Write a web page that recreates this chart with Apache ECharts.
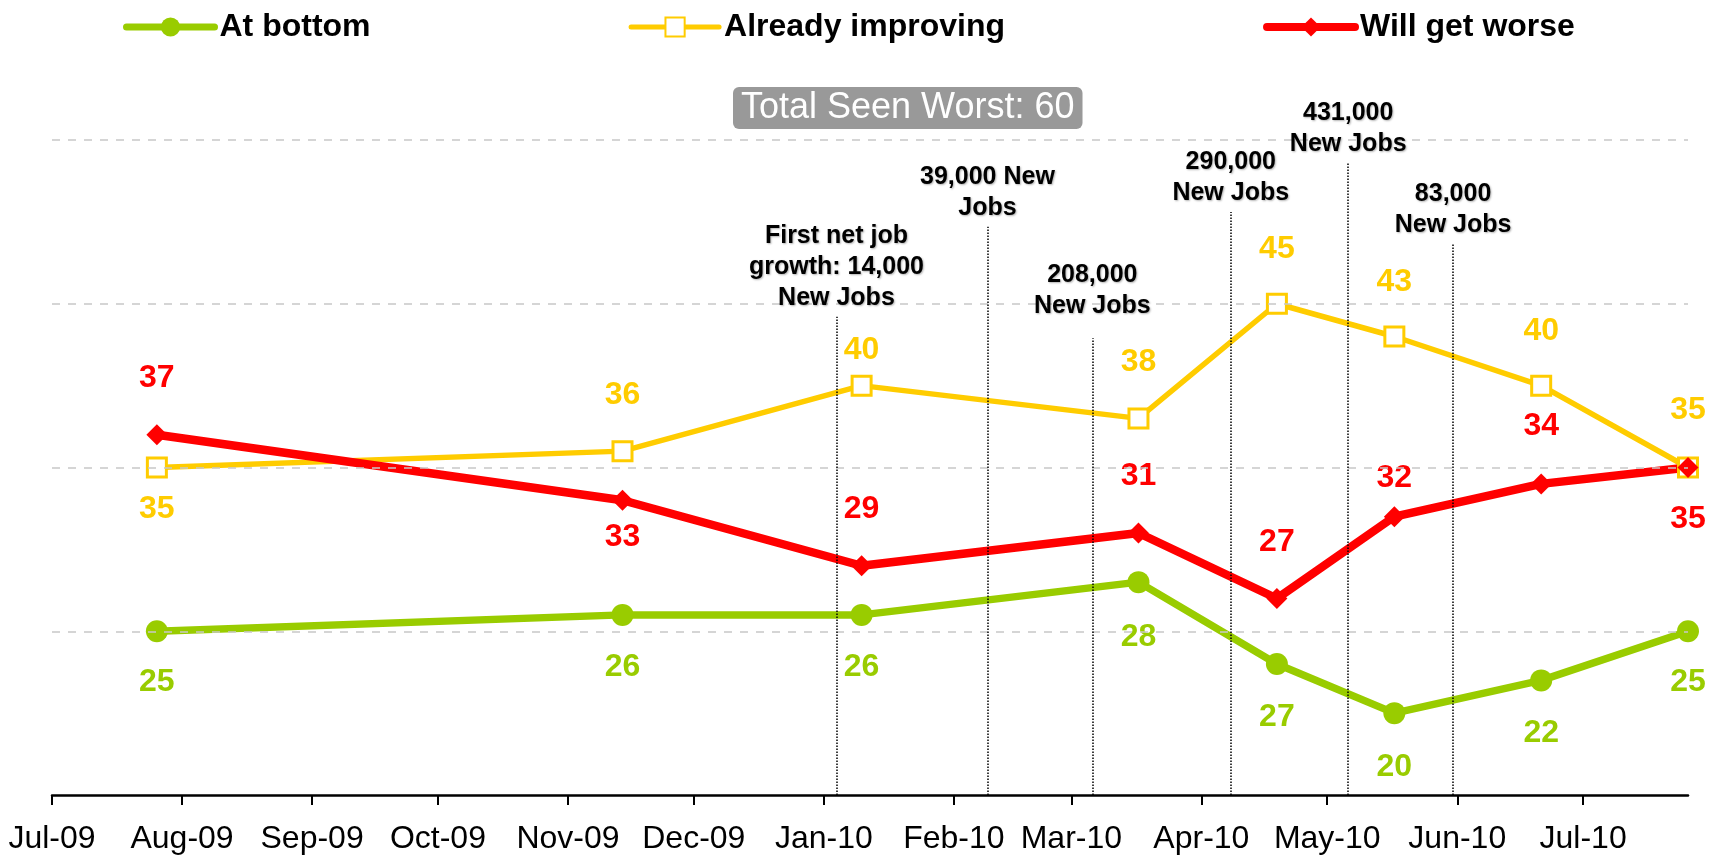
<!DOCTYPE html>
<html>
<head>
<meta charset="utf-8">
<title>Job outlook survey</title>
<script src="https://cdn.jsdelivr.net/npm/echarts@6/dist/echarts.min.js"></script>
<style>
  html, body { margin: 0; padding: 0; background: #fff; }
  #chart { width: 1723px; height: 859px; }
</style>
</head>
<body>
<div id="chart"></div>
<script>
// survey dates
var dates = ['2009-07-26', '2009-11-14', '2010-01-10', '2010-03-17',
             '2010-04-19', '2010-05-17', '2010-06-21', '2010-07-26'];

// plotted values (the "27" point of At bottom is drawn at 23 in the original)
var atBottom = [25, 26, 26, 28, 23, 20, 22, 25];
var atBottomLabels = ['25', '26', '26', '28', '27', '20', '22', '25'];
var improving = [35, 36, 40, 38, 45, 43, 40, 35];
var worse = [37, 33, 29, 31, 27, 32, 34, 35];

// jobs report markers
var jobDates = ['2010-01-04', '2010-02-09', '2010-03-06', '2010-04-08', '2010-05-06', '2010-05-31'];
var jobTops = [44.2, 49.7, 42.9, 50.6, 53.6, 48.7];
var jobTexts = [
  'First net job\ngrowth: 14,000\nNew Jobs',
  '39,000 New\nJobs',
  '208,000\nNew Jobs',
  '290,000\nNew Jobs',
  '431,000\nNew Jobs',
  '83,000\nNew Jobs'
];

var gridValues = [25, 35, 45, 55];
var monthNames = ['Jan', 'Feb', 'Mar', 'Apr', 'May', 'Jun', 'Jul', 'Aug', 'Sep', 'Oct', 'Nov', 'Dec'];

// label offsets (px from point centre)
var greenDy = [51, 52, 52, 55, 53, 54, 53, 51];
var yellowDy = [42, -56, -35, -56, -55, -54, -54, -57];
var redDy = [-57, 37, -57, -57, -56, -38, -58, 52];

var FONT = '"Liberation Sans", Arial, sans-serif';
var GREEN = '#99CC00', YELLOW = '#FFCC00', RED = '#FF0000';

function labelled(values, texts, dys, color) {
  return values.map(function (v, i) {
    return {
      value: [dates[i], v],
      label: {
        show: true,
        position: 'inside',
        offset: [0, dys[i]],
        formatter: texts[i],
        color: color,
        fontSize: 32,
        fontWeight: 'bold',
        fontFamily: FONT
      }
    };
  });
}

var chart = echarts.init(document.getElementById('chart'));
chart.setOption({
  animation: false,
  title: {
    text: 'Total Seen Worst: 60',
    left: 733,
    top: 87,
    backgroundColor: '#999999',
    borderRadius: 6,
    padding: [1, 8, 1, 8],
    textStyle: { color: '#fff', fontSize: 36, fontWeight: 'normal', fontFamily: FONT, lineHeight: 40 }
  },
  legend: {
    data: [
      { name: 'At bottom', lineStyle: { width: 7, cap: 'round' } },
      { name: 'Already improving', lineStyle: { width: 5, cap: 'round' } },
      { name: 'Will get worse', lineStyle: { width: 8, cap: 'round' } }
    ],
    left: 118,
    top: 6,
    itemGap: 258,
    itemWidth: 88,
    itemHeight: 24,
    textStyle: { fontSize: 32, fontWeight: 'bold', color: '#000', fontFamily: FONT, lineHeight: 32 }
  },
  grid: { left: 52, right: 35, top: 140, bottom: 64 },
  xAxis: {
    type: 'time',
    min: '2009-07-01',
    max: '2010-07-26',
    splitNumber: 13,
    minInterval: 28 * 86400000,
    maxInterval: 32 * 86400000,
    axisLine: { onZero: false, lineStyle: { color: '#000', width: 2.5 } },
    axisTick: { show: true, length: 10, lineStyle: { color: '#000', width: 2 } },
    splitLine: { show: false },
    axisLabel: {
      color: '#000',
      fontSize: 32,
      fontFamily: FONT,
      margin: 28,
      hideOverlap: false,
      formatter: function (val) {
        var d = new Date(val);
        return monthNames[d.getMonth()] + '-' + String(d.getFullYear()).slice(2);
      }
    }
  },
  yAxis: { type: 'value', min: 15, max: 55, show: false, splitLine: { show: false } },
  series: [
    {
      name: 'At bottom',
      type: 'line',
      data: labelled(atBottom, atBottomLabels, greenDy, GREEN),
      symbol: 'circle',
      symbolSize: 22,
      lineStyle: { color: GREEN, width: 7.5, cap: 'round' },
      itemStyle: { color: GREEN },
      markLine: {
        silent: true,
        symbol: ['none', 'none'],
        label: { show: false },
        lineStyle: { color: '#c8c8c8', type: [8, 8], width: 1.5 },
        data: gridValues.map(function (v) { return { yAxis: v }; })
      }
    },
    {
      name: 'Already improving',
      type: 'line',
      data: labelled(improving, improving.map(String), yellowDy, YELLOW),
      symbol: 'rect',
      symbolSize: 19,
      lineStyle: { color: YELLOW, width: 5.5, cap: 'round' },
      itemStyle: { color: '#fff', borderColor: YELLOW, borderWidth: 3 },
      markLine: {
        silent: true,
        symbol: ['none', 'none'],
        lineStyle: { color: '#000', type: 'dotted', width: 1.5 },
        label: {
          show: true,
          position: 'end',
          distance: 3,
          color: '#000',
          fontSize: 25,
          fontWeight: 'bold',
          fontFamily: FONT,
          lineHeight: 31,
          textShadowColor: 'rgba(0,0,0,0.3)',
          textShadowBlur: 2,
          textShadowOffsetX: 1,
          textShadowOffsetY: 1
        },
        data: jobDates.map(function (d, i) {
          return [
            { coord: [d, 15] },
            { coord: [d, jobTops[i]], label: { formatter: jobTexts[i], distance: i === 2 ? 17 : 3 } }
          ];
        })
      }
    },
    {
      name: 'Will get worse',
      type: 'line',
      data: labelled(worse, worse.map(String), redDy, RED),
      symbol: 'diamond',
      symbolSize: 21,
      lineStyle: { color: RED, width: 8.5, cap: 'round' },
      itemStyle: { color: RED }
    }
  ]
});
</script>
</body>
</html>
